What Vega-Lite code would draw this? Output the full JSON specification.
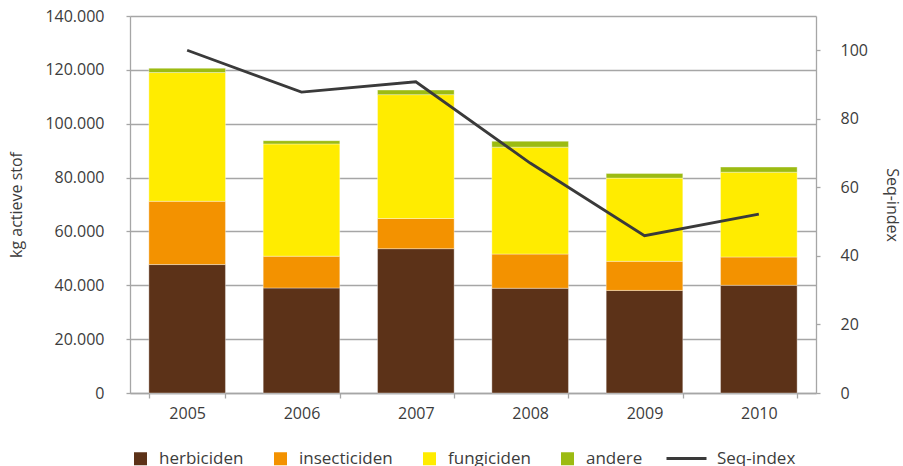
{
  "$schema": "https://vega.github.io/schema/vega-lite/v6.json",
  "width": 686,
  "height": 377,
  "autosize": {"type": "none"},
  "padding": {"left": 130, "top": 16, "right": 87, "bottom": 73},
  "background": "white",
  "config": {
    "font": "Open Sans",
    "view": {"stroke": null},
    "axis": {
      "labelColor": "#3c3c3c",
      "titleColor": "#3c3c3c",
      "labelFontSize": 16,
      "titleFontSize": 16,
      "titleFontWeight": "normal",
      "domainColor": "#a6a6a6",
      "domainWidth": 1.3,
      "tickColor": "#a6a6a6",
      "tickWidth": 1.3,
      "gridColor": "#a6a6a6",
      "gridWidth": 1.3
    },
    "legend": {
      "labelColor": "#3c3c3c",
      "labelFontSize": 16,
      "padding": 0
    }
  },
  "data": {
    "values": [
      {"jaar": "2005", "herbiciden": 47700, "insecticiden": 23500, "fungiciden": 47800, "andere": 1600, "seq": 100},
      {"jaar": "2006", "herbiciden": 39000, "insecticiden": 11800, "fungiciden": 41700, "andere": 1200, "seq": 87.8},
      {"jaar": "2007", "herbiciden": 53600, "insecticiden": 11200, "fungiciden": 46000, "andere": 1700, "seq": 90.8},
      {"jaar": "2008", "herbiciden": 38900, "insecticiden": 12700, "fungiciden": 39700, "andere": 2200, "seq": 67.1},
      {"jaar": "2009", "herbiciden": 38100, "insecticiden": 10800, "fungiciden": 30900, "andere": 1700, "seq": 45.9},
      {"jaar": "2010", "herbiciden": 40000, "insecticiden": 10500, "fungiciden": 31500, "andere": 1900, "seq": 52.2}
    ]
  },
  "layer": [
    {
      "transform": [
        {"fold": ["herbiciden", "insecticiden", "fungiciden", "andere"], "as": ["soort", "kg"]},
        {"calculate": "indexof(['herbiciden','insecticiden','fungiciden','andere'], datum.soort)", "as": "volgorde"}
      ],
      "mark": {"type": "bar", "stroke": "white", "strokeWidth": 1, "strokeOpacity": 0.35},
      "encoding": {
        "x": {
          "field": "jaar",
          "type": "ordinal",
          "scale": {"paddingInner": 0.33, "paddingOuter": 0.165},
          "axis": {
            "title": null,
            "labelAngle": 0,
            "tickBand": "extent",
            "tickSize": 5,
            "labelPadding": 7
          }
        },
        "y": {
          "field": "kg",
          "type": "quantitative",
          "aggregate": "sum",
          "stack": "zero",
          "scale": {"domain": [0, 140000], "nice": false},
          "axis": {
            "title": "kg actieve stof",
            "values": [0, 20000, 40000, 60000, 80000, 100000, 120000, 140000],
            "labelExpr": "replace(format(datum.value, ','), ',', '.')",
            "tickSize": 4,
            "labelPadding": 22,
            "titlePadding": 20,
            "grid": true
          }
        },
        "color": {
          "field": "soort",
          "type": "nominal",
          "scale": {
            "domain": ["herbiciden", "insecticiden", "fungiciden", "andere"],
            "range": ["#5c3218", "#f39200", "#ffec00", "#9cbb12"]
          },
          "legend": {
            "title": null,
            "orient": "none",
            "direction": "horizontal",
            "legendX": 2,
            "legendY": 434,
            "symbolType": "square",
            "symbolSize": 169,
            "symbolStrokeWidth": 0,
            "labelOffset": 10,
            "columnPadding": 28,
            "labelFontSize": 17
          }
        },
        "order": {"field": "volgorde", "type": "quantitative", "sort": "ascending"}
      }
    },
    {
      "mark": {"type": "line", "strokeWidth": 2.8},
      "encoding": {
        "x": {"field": "jaar", "type": "ordinal"},
        "y": {
          "field": "seq",
          "type": "quantitative",
          "scale": {"domain": [0, 110], "nice": false},
          "axis": {
            "orient": "right",
            "title": "Seq-index",
            "values": [0, 20, 40, 60, 80, 100],
            "grid": false,
            "tickSize": 4,
            "labelPadding": 20,
            "titlePadding": 16
          }
        },
        "stroke": {
          "datum": "Seq-index",
          "scale": {"range": ["#3a3a3a"]},
          "legend": {
            "title": null,
            "orient": "none",
            "direction": "horizontal",
            "legendX": 535,
            "legendY": 421,
            "symbolType": "stroke",
            "symbolSize": 1600,
            "symbolStrokeWidth": 2.8,
            "labelOffset": 9,
            "labelFontSize": 17
          }
        }
      }
    }
  ],
  "resolve": {"scale": {"y": "independent", "color": "independent", "stroke": "independent"}}
}
